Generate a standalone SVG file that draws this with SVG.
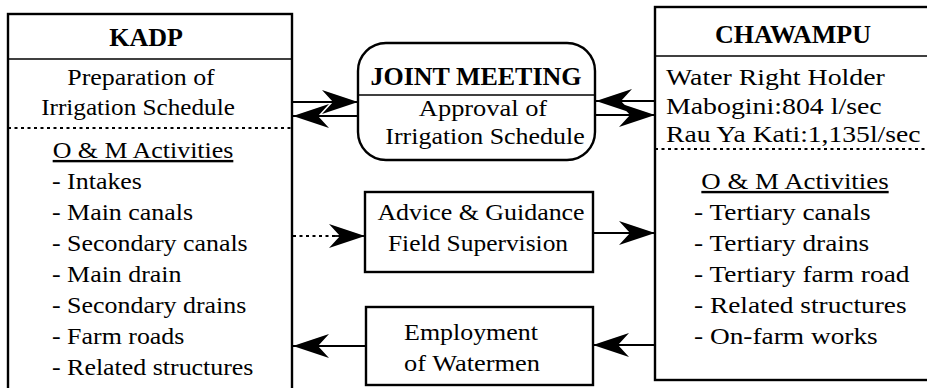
<svg xmlns="http://www.w3.org/2000/svg" width="927" height="388" viewBox="0 0 927 388">
<style>
.box{fill:#fff;stroke:#000;stroke-width:2.4}
.ln{stroke:#000;stroke-width:1.6;fill:none}
.dash{stroke:#000;stroke-width:1.8;stroke-dasharray:3 3.5;fill:none}
.t{font-family:"Liberation Serif","Times New Roman",serif;font-size:24px;fill:#000}
.b{font-family:"Liberation Serif","Times New Roman",serif;font-size:26px;font-weight:bold;fill:#000}
.c{text-anchor:middle}
.u{text-decoration:underline}
.con{stroke:#000;stroke-width:1.8;fill:none}
</style>
<defs>
<marker id="ah" markerUnits="userSpaceOnUse" markerWidth="36" markerHeight="24" refX="36" refY="12" orient="auto" viewBox="0 0 36 24">
<path d="M36,12 L0,0 L11,12 L0,24 Z" fill="#000"/>
</marker>
</defs>
<rect width="927" height="388" fill="#fff"/>
<g id="kadp">
<rect class="box" x="8" y="14" width="284" height="390"/>
<line class="ln" x1="8" y1="59" x2="292" y2="59"/>
<line class="dash" x1="8" y1="128" x2="292" y2="128"/>
<text class="b c" x="146" y="46">KADP</text>
<text class="t c" transform="translate(141,85) scale(1.08,1)">Preparation of</text>
<text class="t c" transform="translate(138,115) scale(1.05,1)">Irrigation Schedule</text>
<text class="t c u" transform="translate(143,158) scale(1.08,1)">O &amp; M Activities</text>
<text class="t" transform="translate(52,189) scale(1.08,1)">- Intakes</text>
<text class="t" transform="translate(52,220) scale(1.08,1)">- Main canals</text>
<text class="t" transform="translate(52,251) scale(1.08,1)">- Secondary canals</text>
<text class="t" transform="translate(52,282) scale(1.08,1)">- Main drain</text>
<text class="t" transform="translate(52,313) scale(1.08,1)">- Secondary drains</text>
<text class="t" transform="translate(52,344) scale(1.08,1)">- Farm roads</text>
<text class="t" transform="translate(52,375) scale(1.08,1)">- Related structures</text>
</g>
<g id="chawampu">
<rect class="box" x="655" y="7" width="290" height="373"/>
<line class="ln" x1="655" y1="56" x2="927" y2="56"/>
<line class="dash" x1="655" y1="149" x2="927" y2="149"/>
<text class="b c" x="793" y="43">CHAWAMPU</text>
<text class="t" transform="translate(666,85) scale(1.16,1)">Water Right Holder</text>
<text class="t" transform="translate(666,114) scale(1.16,1)">Mabogini:804 l/sec</text>
<text class="t" transform="translate(666,142) scale(1.15,1)">Rau Ya Kati:1,135l/sec</text>
<text class="t c u" transform="translate(795,189) scale(1.12,1)">O &amp; M Activities</text>
<text class="t" transform="translate(694,220) scale(1.14,1)">- Tertiary canals</text>
<text class="t" transform="translate(694,251) scale(1.14,1)">- Tertiary drains</text>
<text class="t" transform="translate(694,282) scale(1.14,1)">- Tertiary farm road</text>
<text class="t" transform="translate(694,313) scale(1.14,1)">- Related structures</text>
<text class="t" transform="translate(694,344) scale(1.14,1)">- On-farm works</text>
</g>
<g id="joint">
<rect class="box" x="358" y="43" width="237" height="117" rx="28"/>
<line class="ln" x1="358" y1="95" x2="595" y2="95"/>
<text class="b c" x="476" y="85">JOINT MEETING</text>
<text class="t c" transform="translate(483,116) scale(1.1,1)">Approval of</text>
<text class="t c" transform="translate(485,144) scale(1.08,1)">Irrigation Schedule</text>
</g>
<g id="advice">
<rect class="box" x="365" y="192" width="228" height="80"/>
<text class="t c" transform="translate(481,220) scale(1.08,1)">Advice &amp; Guidance</text>
<text class="t c" transform="translate(478,251) scale(1.06,1)">Field Supervision</text>
</g>
<g id="employment">
<rect class="box" x="366" y="307" width="227" height="78"/>
<text class="t c" transform="translate(471,340) scale(1.08,1)">Employment</text>
<text class="t c" transform="translate(472,371) scale(1.1,1)">of Watermen</text>
</g>
<g id="connectors">
<line class="con" x1="293" y1="102" x2="358" y2="102" marker-end="url(#ah)"/>
<line class="con" x1="358" y1="116" x2="293" y2="116" marker-end="url(#ah)"/>
<line class="con" x1="655" y1="101" x2="596" y2="101" marker-end="url(#ah)"/>
<line class="con" x1="596" y1="115" x2="655" y2="115" marker-end="url(#ah)"/>
<line class="dash" x1="293" y1="236" x2="340" y2="236"/>
<line class="con" x1="335" y1="236" x2="365" y2="236" marker-end="url(#ah)"/>
<line class="con" x1="593" y1="233" x2="655" y2="233" marker-end="url(#ah)"/>
<line class="con" x1="655" y1="345" x2="593" y2="345" marker-end="url(#ah)"/>
<line class="con" x1="366" y1="346" x2="293" y2="346" marker-end="url(#ah)"/>
</g>
</svg>
